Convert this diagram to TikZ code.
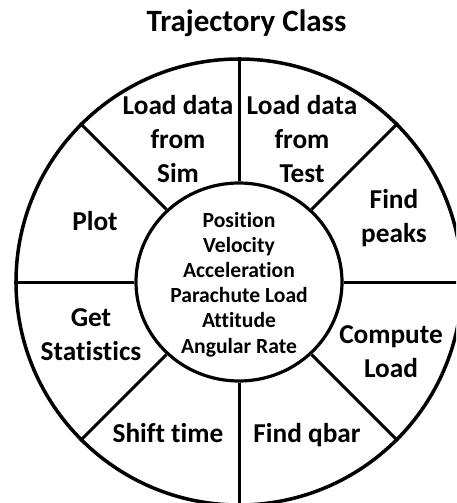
\documentclass[tikz,border=0pt]{standalone}
\usepackage{fontspec}
\setmainfont{Carlito}[Ligatures=NoCommon]
\usetikzlibrary{shapes.geometric}
\begin{document}
\begin{tikzpicture}[x=1pt,y=-1pt,
  wheel/.style={circle,draw,line width=3.5pt,inner sep=0pt,minimum size=446pt},
  hub/.style={ellipse,draw,line width=3.2pt,inner sep=0pt,minimum width=206pt,minimum height=198pt},
  spoke/.style={line width=3pt},
  % multi-line labels are placed by the baseline of their last line
  sector/.style={anchor=base,align=center,inner sep=0pt,font=\bfseries\fontsize{27.3}{33.7}\selectfont},
  hubtext/.style={anchor=base,align=center,inner sep=0pt,font=\bfseries\fontsize{21.6}{25.2}\selectfont},
  heading/.style={anchor=base,inner sep=0pt,font=\bfseries\fontsize{31}{34}\selectfont}]
\useasboundingbox (0,0) rectangle (456,503);
\clip (0,0) rectangle (456,503);

% rim and hub of the wheel
\node[wheel] (outer) at (239,282) {};
\node[hub] (inner) at (239,282) {};

% spokes between hub and rim
\foreach \a in {0,45,...,315}
  \draw[spoke] (inner.\a) -- (outer.\a);

% hub contents
\node[hubtext] (data) at (239,353)
  {Position\\Velocity\\Acceleration\\Parachute Load\\Attitude\\Angular Rate};

% methods around the wheel
\node[sector] (loadsim)  at (178,182) {Load data\\from\\Sim};
\node[sector] (loadtest) at (302,182) {Load data\\from\\Test};
\node[sector] (peaks)    at (394,242) {Find\\peaks};
\node[sector] (plot)     at (95,230)  {Plot};
\node[sector] (stats)    at (91,360)  {Get\\Statistics};
\node[sector] (load)     at (391,377) {Compute\\Load};
\node[sector] (shift)    at (168,442) {Shift time};
\node[sector] (qbar)     at (307,442) {Find qbar};

\node[heading] (title) at (246.5,31.5) {Trajectory Class};
\end{tikzpicture}
\end{document}
